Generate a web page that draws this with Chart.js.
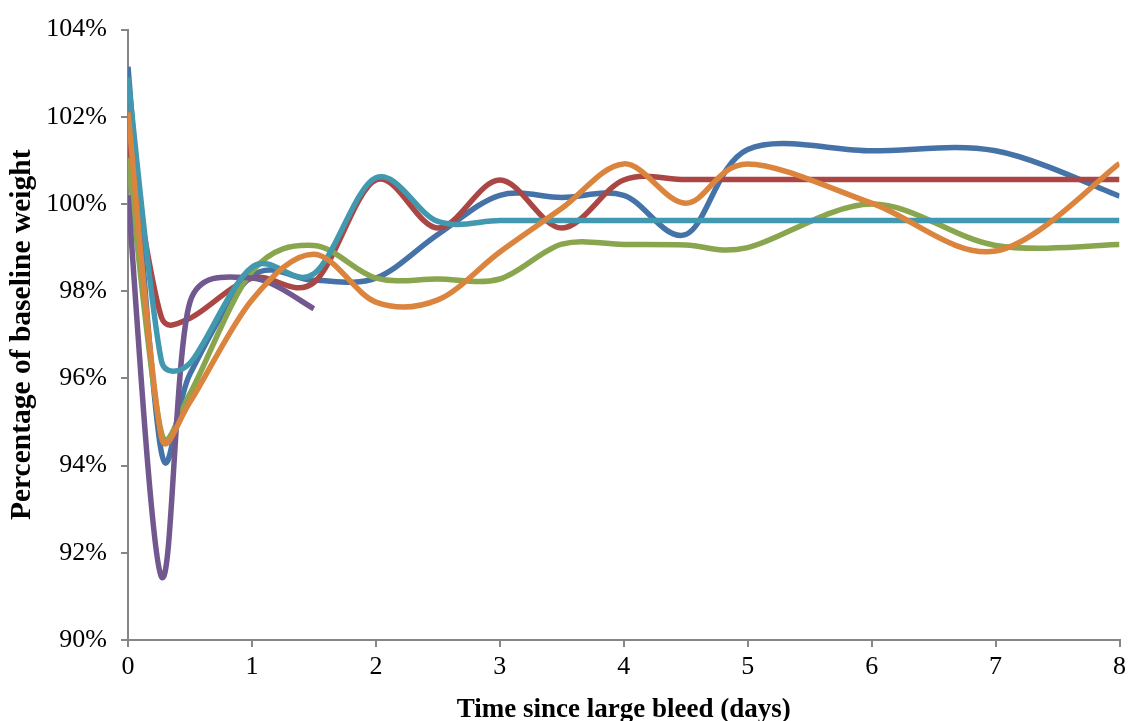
<!DOCTYPE html>
<html>
<head>
<meta charset="utf-8">
<script src="https://cdn.jsdelivr.net/npm/chart.js@4.4.1/dist/chart.umd.min.js"></script>
<style>
  html, body { margin: 0; padding: 0; background: #fff; }
  #wrap { width: 1131px; height: 721px; }
</style>
</head>
<body>
<div id="wrap"><canvas id="chart" width="1131" height="721"></canvas></div>
<script>
// sampling times (days since the bleed)
const days       = [0, 0.27, 0.5, 1, 1.5, 2, 2.5, 3, 3.5, 4, 4.5, 5, 6, 7, 8];
const purpleDays = [0, 0.27, 0.5, 1, 1.5];

// percentage of baseline weight, one array per animal
const blueVals   = [103.15, 94.3, 96.1, 98.35, 98.25, 98.3, 99.3, 100.2, 100.15, 100.2, 99.3, 101.25, 101.22, 101.22, 100.18];
const redVals    = [101.5, 97.4, 97.38, 98.3, 98.2, 100.55, 99.45, 100.55, 99.45, 100.55, 100.56, 100.56, 100.56, 100.56, 100.56];
const greenVals  = [101.05, 94.75, 95.65, 98.45, 99.05, 98.3, 98.28, 98.28, 99.08, 99.07, 99.06, 99.0, 100.0, 99.05, 99.07];
const purpleVals = [100.2, 91.45, 97.75, 98.3, 97.6];
const tealVals   = [102.9, 96.4, 96.35, 98.55, 98.4, 100.6, 99.6, 99.62, 99.62, 99.62, 99.62, 99.62, 99.62, 99.62, 99.62];
const orangeVals = [102.1, 94.65, 95.46, 97.8, 98.85, 97.75, 97.8, 98.9, 99.9, 100.92, 100.02, 100.92, 100.02, 98.92, 100.93];

const yTicks = [90, 92, 94, 96, 98, 100, 102, 104];

const serif = "'Liberation Serif', 'Times New Roman', serif";
const axisGrey = '#868686';

const pairs = (xs, ys) => ys.map((y, i) => ({ x: xs[i], y }));

const series = [
    { color: '#4572A7', xs: days, ys: blueVals },
    { color: '#AA4643', xs: days, ys: redVals },
    { color: '#89A54E', xs: days, ys: greenVals },
    { color: '#71588F', xs: purpleDays, ys: purpleVals },
    { color: '#4198AF', xs: days, ys: tealVals },
    { color: '#DB843D', xs: days, ys: orangeVals }
];

// spreadsheet-style smoothing: handles are a sixth of the chord between
// the neighbours, never longer than half of the adjacent segment
const spreadsheetSmoothing = {
    id: 'spreadsheetSmoothing',
    beforeDatasetDraw(chart, args) {
        const line = args.meta.dataset;
        const pts = args.meta.data;
        if (!line || pts.length < 2) return;
        if (typeof line.updateControlPoints === 'function')
            line.updateControlPoints(chart.chartArea, 'x');

        const handle = (p, q, dx, dy) => {
            const seg = Math.hypot(q.x - p.x, q.y - p.y) / 2;
            const len = Math.hypot(dx, dy);
            const k = len > seg && len > 0 ? seg / len : 1;
            return [dx * k, dy * k];
        };

        pts.forEach((p, i) => {
            const prev = pts[Math.max(i - 1, 0)];
            const next = pts[Math.min(i + 1, pts.length - 1)];
            const dx = (next.x - prev.x) / 6;
            const dy = (next.y - prev.y) / 6;
            const [bx, by] = handle(p, prev, dx, dy);
            const [fx, fy] = handle(p, next, dx, dy);
            p.cp1x = p.x - bx; p.cp1y = p.y - by;
            p.cp2x = p.x + fx; p.cp2y = p.y + fy;
        });
        line._path = undefined;
    }
};

new Chart(document.getElementById('chart'), {
    type: 'line',
    data: {
        datasets: series.map((s, i) => ({
            data: pairs(s.xs, s.ys),
            borderColor: s.color,
            backgroundColor: s.color,
            borderWidth: 5.5,
            pointRadius: 0,
            tension: 0.4,
            fill: false,
            order: series.length - i
        }))
    },
    plugins: [spreadsheetSmoothing],
    options: {
        responsive: false,
        animation: false,
        layout: { padding: { top: 26, right: 11, left: 0, bottom: 0 } },
        plugins: { legend: { display: false }, tooltip: { enabled: false } },
        scales: {
            x: {
                type: 'linear',
                min: 0,
                max: 8,
                afterFit: scale => { scale.height = 81; },
                ticks: { stepSize: 1, color: '#000', padding: 5, font: { family: serif, size: 26 } },
                grid: { drawOnChartArea: false, drawTicks: true, tickLength: 7, color: axisGrey, lineWidth: 2 },
                border: { color: axisGrey, width: 2 },
                title: {
                    display: true,
                    text: 'Time since large bleed (days)',
                    color: '#000',
                    padding: { top: 0, bottom: -5 },
                    font: { family: serif, size: 27, weight: 'bold' }
                }
            },
            y: {
                min: 90,
                max: 104,
                afterFit: scale => { scale.width = 128; },
                afterBuildTicks: scale => { scale.ticks = yTicks.map(v => ({ value: v })); },
                ticks: { color: '#000', padding: 14, font: { family: serif, size: 26 }, callback: v => v + '%' },
                grid: { drawOnChartArea: false, drawTicks: true, tickLength: 7, color: axisGrey, lineWidth: 2 },
                border: { color: axisGrey, width: 2 },
                title: {
                    display: true,
                    text: 'Percentage of baseline weight',
                    color: '#000',
                    padding: { top: 5, bottom: 0 },
                    font: { family: serif, size: 29.5, weight: 'bold' }
                }
            }
        }
    }
});
</script>
</body>
</html>
